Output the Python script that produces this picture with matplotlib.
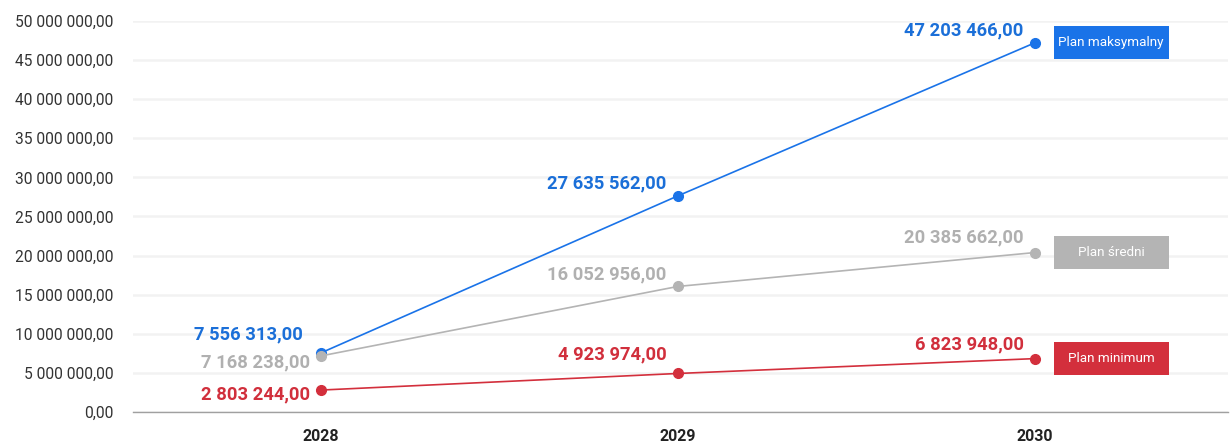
import matplotlib
matplotlib.use("Agg")
import matplotlib.pyplot as plt
from matplotlib.patches import Rectangle
from matplotlib.ticker import FuncFormatter

plt.rcParams['font.family'] = ['Roboto', 'DejaVu Sans']

# yearly totals for each plan
years = ['2028', '2029', '2030']
plan_max = [7556313.00, 27635562.00, 47203466.00]
plan_mid = [7168238.00, 16052956.00, 20385662.00]
plan_min = [2803244.00, 4923974.00, 6823948.00]
plan_names = ['Plan maksymalny', 'Plan średni', 'Plan minimum']
colors = ['#1a73e8', '#b4b4b4', '#d32f3c']
label_colors = ['#1b6fd8', '#b0b0b0', '#d12f3c']

# label offsets (points) relative to each marker
offsets = [
    [(-13, 13), (-8, 9), (-8, 9)],
    [(-8, -5), (-8, 9), (-8, 11)],
    [(-8, -3), (-8, 14), (-8, 10)],
]


def fmt_pl(v, pos=None):
    s = '{:,.2f}'.format(v)
    return s.replace(',', ' ').replace('.', ',')


fig = plt.figure(figsize=(12.3, 4.48), dpi=100)
ax = fig.add_axes([0.108, 0.0804, 0.89, 0.8728])

x = list(range(len(years)))
series = [plan_max, plan_mid, plan_min]

for s, vals in enumerate(series):
    ax.plot(x, vals, color=colors[s], lw=1.2, marker='o', ms=7,
            zorder=3, clip_on=False)
    for i, v in enumerate(vals):
        ax.annotate(fmt_pl(v), (x[i], v), xytext=offsets[s][i],
                    textcoords='offset points', ha='right', va='center',
                    fontsize=13.2, fontweight='bold', color=label_colors[s],
                    annotation_clip=False)
    # end-of-line name box
    ax.add_patch(Rectangle((2.053, vals[-1] - 2.1e6), 0.322, 4.2e6,
                           facecolor=colors[s], edgecolor='none',
                           clip_on=False, zorder=4))
    ax.text(2.214, vals[-1], plan_names[s], color='white', fontsize=9.7,
            ha='center', va='center', zorder=5)

ax.set_xlim(-0.527, 2.54)
ax.set_ylim(0, 50000000)
ax.set_yticks(range(0, 50000001, 5000000))
ax.yaxis.set_major_formatter(FuncFormatter(fmt_pl))
ax.set_xticks(x)
ax.set_xticklabels(years, fontweight='bold', fontsize=11.5, color='#222222')
ax.tick_params(axis='y', length=0, pad=14, labelsize=11.2, labelcolor='#333333')
ax.tick_params(axis='x', length=0, pad=12)

ax.grid(axis='y', color='#f2f2f2', lw=1.8)
ax.set_axisbelow(True)
for side in ['top', 'right', 'left']:
    ax.spines[side].set_visible(False)
ax.spines['bottom'].set_color('#a0a0a0')
ax.spines['bottom'].set_linewidth(1)
ax.spines['bottom'].set_zorder(2)

fig.savefig('out.png', dpi=100)
